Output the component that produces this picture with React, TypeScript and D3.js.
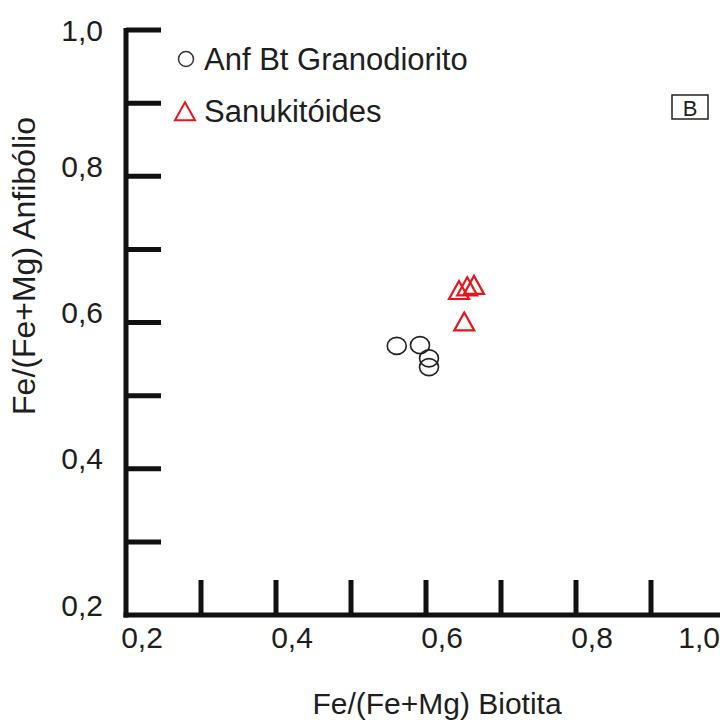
import * as d3 from "d3";

const granodioritoX = [0.561, 0.592, 0.604, 0.604];
const granodioritoY = [0.568, 0.569, 0.551, 0.539];
const sanukitoidesX = [0.644, 0.655, 0.664, 0.651];
const sanukitoidesY = [0.642, 0.647, 0.649, 0.599];

const xTicks = [0.3, 0.4, 0.5, 0.6, 0.7, 0.8, 0.9];
const yTicks = [0.3, 0.4, 0.5, 0.6, 0.7, 0.8, 0.9, 1.0];
const xLabels = [0.2, 0.4, 0.6, 0.8, 1.0];
const yLabels = [0.2, 0.4, 0.6, 0.8, 1.0];
const legendItems = ["Anf Bt Granodiorito", "Sanukitóides"];

const W = 720;
const H = 722;
const FONT = "'Liberation Sans', Arial, sans-serif";
const RED = "#e8141c";
const INK = "#1e1e1e";

const fmt = (v: number) => v.toFixed(1).replace(".", ",");

// triangle path centered on 0,0
const tri = (s: number) => {
  const h = s * 0.9;
  return `M0,${-h * 0.6}L${s / 2},${h * 0.4}L${-s / 2},${h * 0.4}Z`;
};

export default function App() {
  const x = d3.scaleLinear().domain([0.2, 1.0]).range([126, 726]);
  const y = d3.scaleLinear().domain([0.2, 1.0]).range([615, 30]);

  const circles = granodioritoX.map((v, i) => ({ x: v, y: granodioritoY[i] }));
  const triangles = sanukitoidesX.map((v, i) => ({ x: v, y: sanukitoidesY[i] }));

  return (
    <svg
      width={W}
      height={H}
      style={{ position: "absolute", left: 0, top: 0, background: "#fff" }}
      fontFamily={FONT}
    >
      {/* y axis */}
      <line x1={x(0.2)} x2={x(0.2)} y1={y(1.0) - 2} y2={y(0.2) + 2.5} stroke="#111" strokeWidth={5} />
      {yTicks.map((t) => (
        <line key={t} x1={x(0.2)} x2={x(0.2) + 35} y1={y(t)} y2={y(t)} stroke="#111" strokeWidth={5} />
      ))}
      {/* x axis */}
      <line x1={x(0.2) - 2.5} x2={W} y1={y(0.2)} y2={y(0.2)} stroke="#111" strokeWidth={5} />
      {xTicks.map((t) => (
        <line key={t} x1={x(t)} x2={x(t)} y1={y(0.2)} y2={y(0.2) - 35} stroke="#111" strokeWidth={5} />
      ))}

      {yLabels.map((t) => (
        <text key={t} x={103} y={Math.max(y(t) - 10, 30) + 10.5} textAnchor="end" fontSize={30} fill={INK}>
          {fmt(t)}
        </text>
      ))}
      {xLabels.map((t) => (
        <text
          key={t}
          x={t === 1.0 ? 720 : x(t) + 16}
          y={648}
          textAnchor={t === 1.0 ? "end" : "middle"}
          fontSize={30}
          fill={INK}
        >
          {fmt(t)}
        </text>
      ))}

      <text x={437} y={714} textAnchor="middle" fontSize={30} fill={INK}>
        Fe/(Fe+Mg) Biotita
      </text>
      <text
        transform={`translate(35,${266}) rotate(-90)`}
        textAnchor="middle"
        fontSize={32}
        fill={INK}
      >
        Fe/(Fe+Mg) Anfibólio
      </text>

      {/* legend */}
      <circle cx={186} cy={59} r={7.5} fill="none" stroke="#333" strokeWidth={1.5} />
      <text x={204} y={70} fontSize={31} fill={INK}>{legendItems[0]}</text>
      <path d={tri(20)} transform="translate(185,113)" fill="none" stroke={RED} strokeWidth={2} />
      <text x={204} y={122} fontSize={31} fill={INK}>{legendItems[1]}</text>

      {/* panel label */}
      <rect x={672} y={95} width={36} height={24} fill="none" stroke="#222" strokeWidth={1.5} />
      <text x={690} y={115.5} textAnchor="middle" fontSize={22} fill={INK}>B</text>

      {/* points */}
      {circles.map((d, i) => (
        <ellipse key={i} cx={x(d.x)} cy={y(d.y)} rx={9.5} ry={8.5} fill="none" stroke="#222" strokeWidth={1.6} />
      ))}
      {triangles.map((d, i) => (
        <path
          key={i}
          d={tri(20)}
          transform={`translate(${x(d.x)},${y(d.y)})`}
          fill="none"
          stroke={RED}
          strokeWidth={2.2}
        />
      ))}
    </svg>
  );
}
